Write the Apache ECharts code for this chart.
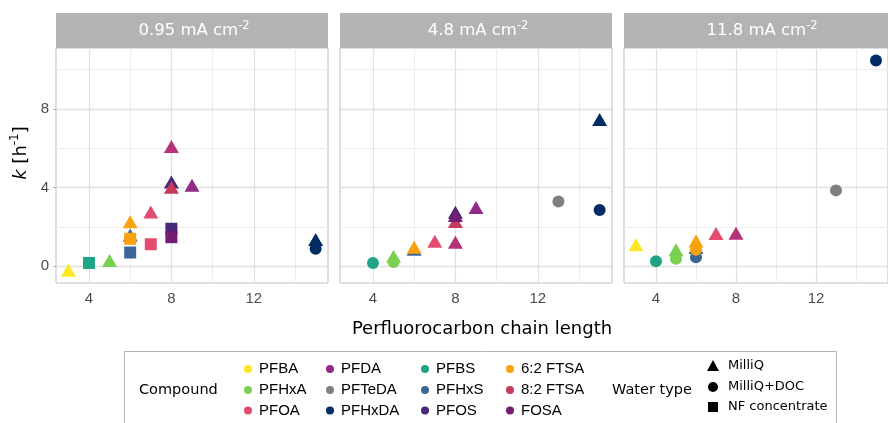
<!DOCTYPE html>
<html><head><meta charset="utf-8">
<script src="https://cdn.jsdelivr.net/npm/echarts@6/dist/echarts.min.js"></script>
<style>html,body{margin:0;padding:0;background:#fff}#c{width:888px;height:423px}</style>
</head><body><div id="c"></div>
<script>
// ---------- data ----------
const panelLabels = ['0.95', '4.8', '11.8'];
const compounds   = ['PFBA','PFHxA','PFOA','PFNA','PFDA','PFTeDA','PFHxDA','PFBS','PFHxS','PFOS','6:2 FTSA','8:2 FTSA','FOSA'];
const chainLength = [3, 5, 7, 8, 9, 13, 15, 4, 6, 8, 6, 8, 8];
const legendCompounds = ['PFBA','PFHxA','PFOA','PFDA','PFTeDA','PFHxDA','PFBS','PFHxS','PFOS','6:2 FTSA','8:2 FTSA','FOSA'];
const waterTypes = ['MilliQ', 'MilliQ+DOC', 'NF concentrate'];
const xTicks = [4, 8, 12];
const yTicks = [0, 4, 8];

// k [h-1] per compound (order of `compounds`), per panel and water type
const milliQ_095 = [-0.2, 0.29, 2.76, 6.09, 4.12, null, 1.36, null, 1.59, 4.29, 2.26, 4.02, null];
const doc_095    = [null, null, null, null, null, null, 0.89, null, null, null, null, null, null];
const nf_095     = [null, null, 1.12, null, null, null, null, 0.17, 0.70, 1.91, 1.40, null, 1.48];

const milliQ_48  = [null, 0.51, 1.27, 1.22, 2.99, null, 7.47, null, 0.87, 2.75, 0.97, 2.28, 2.58];
const doc_48     = [null, 0.22, null, null, null, 3.30, 2.86, 0.17, null, null, null, null, null];
const nf_48      = [null, null, null, null, null, null, null, null, null, null, null, null, null];

const milliQ_118 = [1.09, 0.84, 1.67, 1.68, null, null, null, null, 0.95, null, 1.28, null, null];
const doc_118    = [null, 0.38, null, null, null, 3.86, 10.46, 0.26, 0.46, null, 0.84, null, null];
const nf_118     = [null, null, null, null, null, null, null, null, null, null, null, null, null];

const panelValues = [
  [milliQ_095, doc_095, nf_095],
  [milliQ_48, doc_48, nf_48],
  [milliQ_118, doc_118, nf_118]
];

// ---------- styles ----------
const colorOf = {
  'PFBA':'#FDE725','PFHxA':'#7AD151','PFOA':'#E24C6E','PFNA':'#B5317A','PFDA':'#912A88',
  'PFTeDA':'#7F7F7F','PFHxDA':'#002B63','PFBS':'#20A386','PFHxS':'#3B6797','PFOS':'#482878',
  '6:2 FTSA':'#F9A20C','8:2 FTSA':'#C73A5C','FOSA':'#721F73'
};
const symbolOf = [
  {symbol:'triangle', size:[15,13]},
  {symbol:'circle', size:12},
  {symbol:'rect', size:12}
];
const SANS = 'DejaVu Sans';
const ARIAL = 'Liberation Sans';
const gridLeft = [56, 340, 624];
const gridTop = 48, gridW = 272, gridH = 235;
const xMin = 2.4, xMax = 15.6, yMin = -0.85, yMax = 11.1;
const majorX = [4, 8, 12], minorX = [6, 10, 14];
const majorY = [0, 4, 8], minorY = [2, 6, 10];

const grids = [], xAxes = [], yAxes = [], series = [], graphic = [];

panelLabels.forEach((lab, p) => {
  grids.push({left: gridLeft[p], top: gridTop, width: gridW, height: gridH,
    show: true, borderColor: '#bdbdbd', borderWidth: 1, backgroundColor: '#fff'});
  xAxes.push({type:'value', gridIndex:p, min:xMin, max:xMax,
    axisLine:{show:false}, splitLine:{show:false},
    axisTick:{show:true, customValues:xTicks, length:3, lineStyle:{color:'#b3b3b3'}},
    axisLabel:{show:true, customValues:xTicks, color:'#4d4d4d', fontSize:15, fontFamily:ARIAL, margin:8}
  });
  yAxes.push({type:'value', gridIndex:p, min:yMin, max:yMax,
    axisLine:{show:false}, splitLine:{show:false},
    axisTick:{show:p===0, customValues:yTicks, length:3, lineStyle:{color:'#b3b3b3'}},
    axisLabel:{show:p===0, customValues:yTicks, color:'#4d4d4d', fontSize:15, fontFamily:ARIAL, margin:7}
  });
  // grid lines through the axes scales
  const ml = [];
  minorX.forEach(v => ml.push({xAxis:v, lineStyle:{color:'#ededed', width:1, type:'solid'}}));
  minorY.forEach(v => ml.push({yAxis:v, lineStyle:{color:'#ededed', width:1, type:'solid'}}));
  majorX.forEach(v => ml.push({xAxis:v, lineStyle:{color:'#e0e0e0', width:1.3, type:'solid'}}));
  majorY.forEach(v => ml.push({yAxis:v, lineStyle:{color:'#e0e0e0', width:1.3, type:'solid'}}));
  series.push({type:'scatter', xAxisIndex:p, yAxisIndex:p, data:[], z:1, silent:true,
    markLine:{silent:true, z:1, symbol:['none','none'], label:{show:false}, animation:false, data:ml}});
  // points
  compounds.forEach((c, ci) => {
    const data = [];
    panelValues[p].forEach((arr, wi) => {
      const v = arr[ci];
      if (v !== null && v !== undefined) {
        data.push({value:[chainLength[ci], v], symbol:symbolOf[wi].symbol, symbolSize:symbolOf[wi].size});
      }
    });
    series.push({type:'scatter', name:c, xAxisIndex:p, yAxisIndex:p, data, z:6,
      itemStyle:{color:colorOf[c], opacity:1}, animation:false, clip:false});
  });
  // strip
  graphic.push({type:'rect', shape:{x:gridLeft[p], y:13, width:gridW, height:35}, style:{fill:'#b3b3b3'}, z:10});
  graphic.push({type:'text', x:gridLeft[p] + gridW/2 + 2, y:31, z:11,
    style:{text: lab + ' mA cm{s|-2}', fill:'#fff', fontSize:16.5, fontFamily:SANS, lineHeight:22,
      align:'center', verticalAlign:'middle', textAlign:'center', textVerticalAlign:'middle',
      rich:{s:{fontSize:11.5, fontFamily:SANS, fill:'#fff', lineHeight:11, verticalAlign:'top'}}}});
});

// axis titles
graphic.push({type:'text', x:482, y:329, z:11,
  style:{text:'Perfluorocarbon chain length', fill:'#000', fontSize:18, fontFamily:SANS,
    align:'center', verticalAlign:'middle', textAlign:'center', textVerticalAlign:'middle'}});
graphic.push({type:'text', x:21, y:153, rotation:Math.PI/2, z:11,
  style:{text:'{i|k} [h{s|-1}]', fill:'#000', fontSize:18, fontFamily:SANS, lineHeight:24,
    align:'center', verticalAlign:'middle', textAlign:'center', textVerticalAlign:'middle',
    rich:{i:{fontStyle:'italic', fontSize:18, fontFamily:SANS, fill:'#000', lineHeight:24},
          s:{fontSize:12, fontFamily:SANS, fill:'#000', lineHeight:12, verticalAlign:'top'}}}});

// legend box
graphic.push({type:'rect', shape:{x:124.5, y:351.5, width:712, height:100}, style:{fill:'#fff', stroke:'#b3b3b3', lineWidth:1}, z:10});
graphic.push({type:'text', x:139, y:390, z:11,
  style:{text:'Compound', fill:'#000', fontSize:14.5, fontFamily:SANS, align:'left', verticalAlign:'middle', textAlign:'left', textVerticalAlign:'middle'}});
const colX = [248, 330, 425, 510], rowY = [369, 390, 410.5];
legendCompounds.forEach((c, i) => {
  const col = Math.floor(i / 3), row = i % 3;
  graphic.push({type:'circle', shape:{cx:colX[col], cy:rowY[row], r:4}, style:{fill:colorOf[c]}, z:11});
  graphic.push({type:'text', x:colX[col] + 11, y:rowY[row], z:11,
    style:{text:c, fill:'#000', fontSize:15, fontFamily:ARIAL, align:'left', verticalAlign:'middle', textAlign:'left', textVerticalAlign:'middle'}});
});
graphic.push({type:'text', x:612, y:390, z:11,
  style:{text:'Water type', fill:'#000', fontSize:14.5, fontFamily:SANS, align:'left', verticalAlign:'middle', textAlign:'left', textVerticalAlign:'middle'}});
const wtY = [366, 387, 407];
graphic.push({type:'polygon', shape:{points:[[713,360],[719,371],[707,371]]}, style:{fill:'#000'}, z:11});
graphic.push({type:'circle', shape:{cx:713, cy:387, r:5}, style:{fill:'#000'}, z:11});
graphic.push({type:'rect', shape:{x:708, y:402, width:10, height:10}, style:{fill:'#000'}, z:11});
waterTypes.forEach((w, i) => {
  graphic.push({type:'text', x:728, y:wtY[i], z:11,
    style:{text:w, fill:'#000', fontSize:13, fontFamily:SANS, align:'left', verticalAlign:'middle', textAlign:'left', textVerticalAlign:'middle'}});
});

const chart = echarts.init(document.getElementById('c'), null, {renderer:'canvas'});
chart.setOption({
  animation:false,
  backgroundColor:'#fff',
  grid:grids, xAxis:xAxes, yAxis:yAxes, series, graphic
});
</script></body></html>
